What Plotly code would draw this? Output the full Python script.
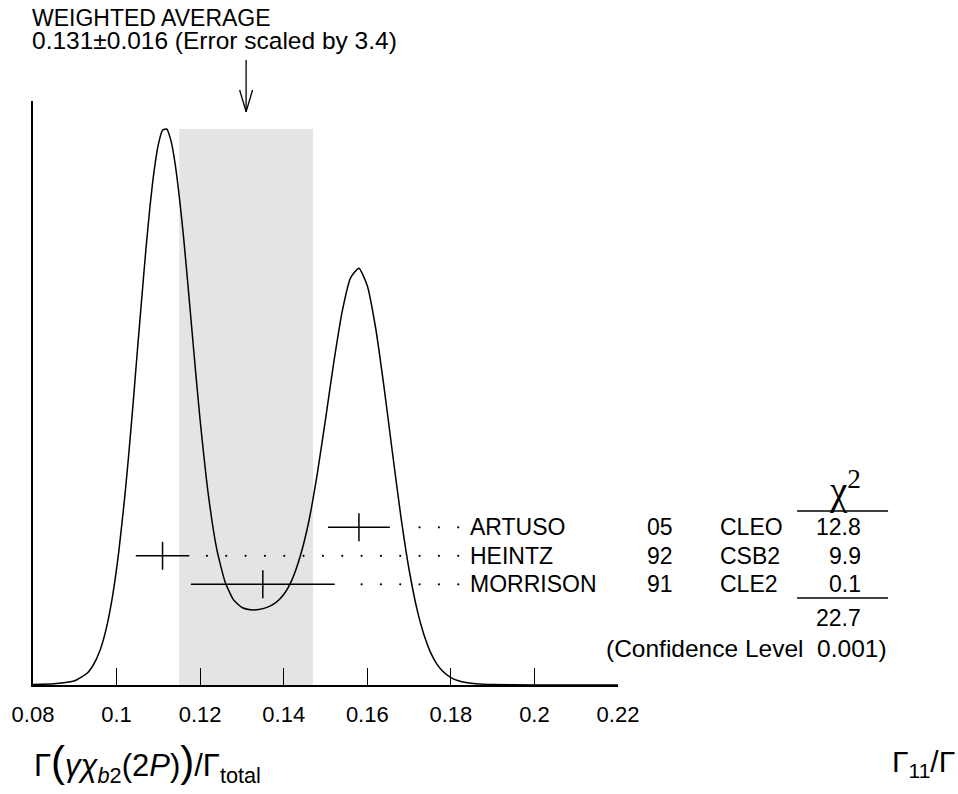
import plotly.graph_objects as go

# ---------------- data ----------------
names = ["ARTUSO", "HEINTZ", "MORRISON"]
years = ["05", "92", "91"]
experiments = ["CLEO", "CSB2", "CLE2"]
values = [0.158, 0.111, 0.135]
errors = [0.0074, 0.0064, 0.0172]
chi2 = ["12.8", "9.9", "0.1"]
chi2_total = "22.7"
confidence_level = "0.001"

avg_value = 0.131
avg_error = 0.016
error_scale = "3.4"

# ideogram curve (arbitrary units)
ideogram_x = [0.080, 0.085, 0.090, 0.093, 0.0945, 0.096, 0.0975, 0.099, 0.1005, 0.102,
              0.103, 0.104, 0.105, 0.106, 0.107, 0.108, 0.109, 0.110, 0.111, 0.112,
              0.113, 0.114, 0.115, 0.116, 0.117, 0.118, 0.119, 0.120, 0.122, 0.124,
              0.126, 0.128, 0.130, 0.132, 0.134, 0.136, 0.138, 0.140, 0.142, 0.144,
              0.146, 0.148, 0.150, 0.152, 0.154, 0.156, 0.158, 0.160, 0.162, 0.164,
              0.166, 0.168, 0.170, 0.172, 0.1735, 0.175, 0.1765, 0.178, 0.180, 0.182,
              0.184, 0.186, 0.190, 0.200, 0.210, 0.220]
ideogram_y = [0.4, 1.2, 4.3, 12.0, 20.5, 34.2, 55.9, 87.9, 132.4, 189.8,
              234.8, 283.8, 335.2, 385.5, 434.7, 478.5, 514.6, 540.6, 554.7, 556.0,
              544.6, 521.7, 488.7, 449.2, 403.9, 356.5, 309.4, 264.8, 189.1, 135.3,
              102.7, 85.1, 77.5, 75.2, 75.5, 77.6, 82.1, 90.5, 105.4, 129.5,
              163.5, 210.3, 265.6, 323.1, 373.7, 407.2, 416.8, 399.3, 357.0, 298.1,
              233.0, 169.7, 115.5, 73.8, 50.9, 33.9, 21.9, 14.0, 7.4, 4.0,
              2.2, 1.3, 0.5, 0.1, 0.0, 0.0]

tick_vals = [0.08, 0.10, 0.12, 0.14, 0.16, 0.18, 0.20, 0.22]
tick_text = ["0.08", "0.1", "0.12", "0.14", "0.16", "0.18", "0.2", "0.22"]

# ---------------- layout helpers ----------------
W, H = 958, 794
L, R, T, B = 31, 340, 101, 109
PW = W - L - R
PH = H - T - B
X0, X1 = 0.08, 0.22
YMAX = PH  # one y unit per pixel
PAD = 3    # annotation inner padding


def px_x(p):
    return (p - L) / PW


def px_y(p):
    return (H - B - p) / PH


def uy(p):  # pixel row -> y axis units
    return (H - B) - p


def dx(p):  # pixel width -> data width
    return p / PW * (X1 - X0)


FONT = "Liberation Sans, Arial, Helvetica, sans-serif"
row_step = 28.5
row_y = [uy(527.3) - i * row_step for i in range(len(names))]

fig = go.Figure()

# weighted average band
fig.add_shape(type="rect", xref="x", yref="y",
              x0=avg_value - avg_error, x1=avg_value + avg_error,
              y0=0, y1=max(ideogram_y),
              fillcolor="#e4e4e4", line=dict(width=0), layer="below")

# ideogram
fig.add_trace(go.Scatter(x=ideogram_x, y=ideogram_y, mode="lines",
                         line=dict(color="black", width=1.5, shape="spline", smoothing=0.5),
                         hoverinfo="skip", showlegend=False))

# dotted leaders
dot_step = dx(19.4)
dot_end = X0 + dx(457.7 - L)
dots_x, dots_y = [], []
for v, e, yy in zip(values, errors, row_y):
    start = v + e + dx(12)
    k = 0
    while dot_end - k * dot_step >= start:
        dots_x.append(dot_end - k * dot_step)
        dots_y.append(yy)
        k += 1
fig.add_trace(go.Scatter(x=dots_x, y=dots_y, mode="markers",
                         marker=dict(size=2.2, color="black"),
                         hoverinfo="skip", showlegend=False))

# measurements
fig.add_trace(go.Scatter(x=values, y=row_y, mode="markers",
                         marker=dict(symbol="line-ns", size=20, color="black",
                                     line=dict(width=1.5, color="black")),
                         error_x=dict(type="data", array=errors, width=0,
                                      thickness=1.5, color="black"),
                         hoverinfo="skip", showlegend=False))

# arrow to weighted average
tip, top, arm = 111.7, 60, 90
fig.add_shape(type="line", xref="x", yref="paper", x0=avg_value, x1=avg_value,
              y0=px_y(top), y1=px_y(tip), line=dict(color="black", width=1.3))
for s in (-1, 1):
    fig.add_shape(type="line", xref="x", yref="paper",
                  x0=avg_value + s * dx(6.5), x1=avg_value,
                  y0=px_y(arm), y1=px_y(tip), line=dict(color="black", width=1.3))

ann = []


def text(t, x, y, xanchor="left", size=23, family=FONT, xref="paper", yref="y"):
    ann.append(dict(text=t, x=x, y=y, xref=xref, yref=yref, xanchor=xanchor,
                    yanchor="middle", showarrow=False,
                    font=dict(size=size, family=family, color="black")))


for i in range(len(names)):
    text(names[i], px_x(470 - PAD), row_y[i])
    text(years[i], px_x(648 - PAD), row_y[i])
    text(experiments[i], px_x(721 - PAD), row_y[i])
    text(chi2[i], px_x(863 + 1), row_y[i], xanchor="right")

text("χ<sup>2</sup>", px_x(846), uy(488), xanchor="center", size=39,
     family="Liberation Serif, Times New Roman, serif")
text(chi2_total, px_x(864), uy(618), xanchor="right")
text("(Confidence Level\u00a0\u00a0" + confidence_level + ")", px_x(890), uy(648),
     xanchor="right", size=24.5)

for yline in (511, 598):
    fig.add_shape(type="line", xref="paper", yref="y", x0=px_x(797.7), x1=px_x(889),
                  y0=uy(yline), y1=uy(yline), line=dict(color="black", width=1.3))

text("WEIGHTED AVERAGE", px_x(33 - PAD - 2), px_y(17.5), size=23, yref="paper")
text(f"{avg_value:.3f}±{avg_error:.3f} (Error scaled by {error_scale})",
     px_x(33 - PAD - 2), px_y(40.5), size=24.5, yref="paper")

text("Γ<span style='font-size:42px'>(</span><i>γχ</i><sub><i>b</i>2</sub>(2<i>P</i>)"
     "<span style='font-size:42px'>)</span>/Γ<sub>total</sub>",
     px_x(33 - PAD), px_y(763), size=31, yref="paper")
text("Γ<sub>11</sub>/Γ", px_x(958), px_y(763), xanchor="right", size=30, yref="paper")

fig.update_layout(
    width=W, height=H,
    margin=dict(l=L, r=R, t=T, b=B, pad=0),
    paper_bgcolor="white", plot_bgcolor="white",
    showlegend=False,
    annotations=ann,
    xaxis=dict(range=[X0, X1], showgrid=False, zeroline=False,
               showline=True, linecolor="black", linewidth=1.5,
               ticks="inside", ticklen=17, tickwidth=1.3, tickcolor="black",
               tickvals=tick_vals, ticktext=tick_text, ticklabelstandoff=9,
               tickfont=dict(size=22, family=FONT, color="black")),
    yaxis=dict(range=[0, YMAX], showgrid=False, zeroline=False,
               showline=True, linecolor="black", linewidth=1.5,
               showticklabels=False, ticks=""),
)

fig.write_html("out.html",
               config={"displayModeBar": False},
               post_script="document.body.style.margin='0';"
                           "document.body.style.overflow='hidden';")
